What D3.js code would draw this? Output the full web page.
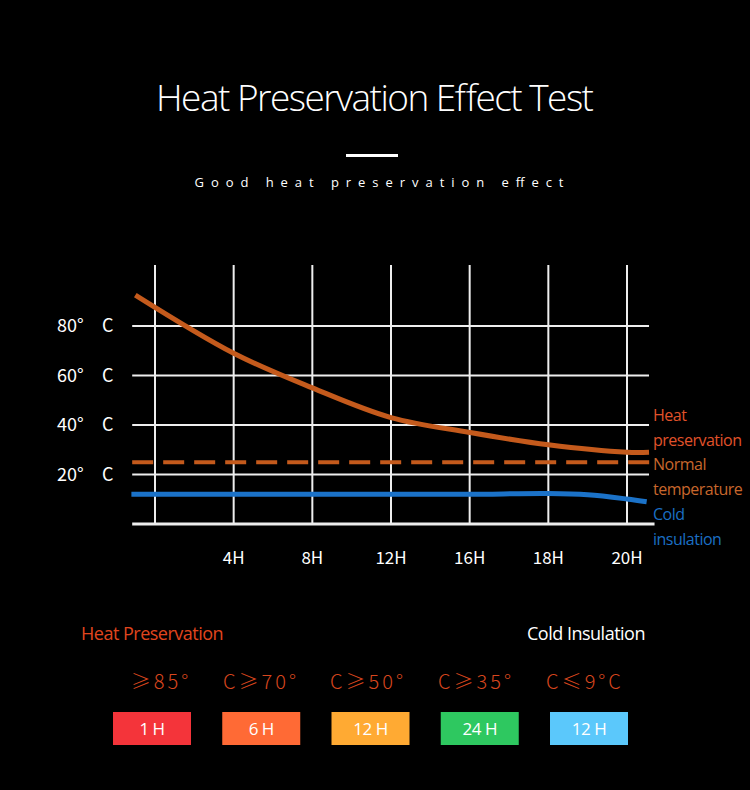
<!DOCTYPE html>
<html>
<head>
<meta charset="utf-8">
<script src="https://cdn.jsdelivr.net/npm/d3@7"></script>
<style>
  html, body { margin: 0; padding: 0; background: #000; }
  svg { display: block; }
</style>
</head>
<body>
<div id="chart"></div>
<script>
// chart data
const xLabels = ["", "4H", "8H", "12H", "16H", "18H", "20H"];
const yTicks = [20, 40, 60, 80];
const heatPos = [-0.25, 1, 2, 3, 4, 5, 6, 6.28];
const heatVals = [92.5, 69, 55, 43, 37, 32, 29, 29];
const normalVal = 25;
const coldPos = [-0.3, 0, 1, 2, 3, 4, 5, 5.5, 6, 6.25];
const coldVals = [12, 12, 12, 12, 12, 12, 12.3, 11.8, 10.1, 9];
const seriesNames = [["Heat", "preservation"], ["Normal", "temperature"], ["Cold", "insulation"]];
const thresholds = ["≥85°", "C≥70°", "C≥50°", "C≥35°", "C≤9°C"];
const durations = ["1 H", "6 H", "12 H", "24 H", "12 H"];

const W = 750, H = 790;
const orange = "#c45a1c";
const blue = "#1b72c8";
const cjk = "'Noto Sans CJK SC', sans-serif";
const latin = "'Open Sans', 'Noto Sans', sans-serif";

const svg = d3.select("#chart").append("svg")
  .attr("width", W)
  .attr("height", H)
  .style("background", "#000");

// titles
svg.append("text")
  .attr("x", 375).attr("y", 111)
  .attr("text-anchor", "middle")
  .attr("fill", "#fff")
  .style("font-family", latin)
  .style("font-weight", 300)
  .style("font-size", "37px")
  .attr("textLength", 438)
  .text("Heat Preservation Effect Test");

svg.append("rect")
  .attr("x", 346).attr("y", 154)
  .attr("width", 52).attr("height", 3)
  .attr("fill", "#fff");

svg.append("text")
  .attr("x", 379).attr("y", 187)
  .attr("text-anchor", "middle")
  .attr("fill", "#fff")
  .style("font-family", latin)
  .style("font-size", "13px")
  .attr("textLength", 369)
  .text("Good heat preservation effect");

// scales
const x = d3.scaleLinear().domain([0, 6]).range([155, 627]);
const y = d3.scaleLinear().domain([0, 80]).range([524, 326]);

const grid = svg.append("g");

// vertical grid
grid.selectAll("line.v")
  .data(xLabels)
  .join("line")
  .attr("class", "v")
  .attr("x1", (d, i) => x(i)).attr("x2", (d, i) => x(i))
  .attr("y1", 265).attr("y2", y(0))
  .attr("stroke", "#eee")
  .attr("stroke-width", 2);

// horizontal grid
grid.selectAll("line.h")
  .data(yTicks)
  .join("line")
  .attr("class", "h")
  .attr("x1", x(-0.29)).attr("x2", x(6.28))
  .attr("y1", d => y(d)).attr("y2", d => y(d))
  .attr("stroke", "#eee")
  .attr("stroke-width", 2);

// bottom axis line
grid.append("line")
  .attr("x1", x(-0.29)).attr("x2", x(6.35))
  .attr("y1", y(0)).attr("y2", y(0))
  .attr("stroke", "#eee")
  .attr("stroke-width", 3);

// y tick labels
const yl = svg.append("g").selectAll("text")
  .data(yTicks)
  .join("text")
  .attr("y", d => y(d) + 6)
  .attr("fill", "#fff")
  .style("font-family", cjk)
  .style("font-size", "18px");
yl.append("tspan").attr("x", 57).text(d => d + "°");
yl.append("tspan").attr("x", 102).text("C");

// x tick labels
svg.append("g").selectAll("text")
  .data(xLabels)
  .join("text")
  .attr("x", (d, i) => x(i))
  .attr("y", 564)
  .attr("text-anchor", "middle")
  .attr("fill", "#fff")
  .style("font-family", cjk)
  .style("font-size", "17px")
  .text(d => d);

// lines
const line = d3.line()
  .x(d => x(d[0]))
  .y(d => y(d[1]))
  .curve(d3.curveCatmullRom.alpha(0.5));

svg.append("path")
  .datum(heatPos.map((p, i) => [p, heatVals[i]]))
  .attr("d", line)
  .attr("fill", "none")
  .attr("stroke", orange)
  .attr("stroke-width", 5);

svg.append("line")
  .attr("x1", x(-0.29)).attr("x2", x(6.35))
  .attr("y1", y(normalVal)).attr("y2", y(normalVal))
  .attr("stroke", orange)
  .attr("stroke-width", 4)
  .attr("stroke-dasharray", "21 10");

svg.append("path")
  .datum(coldPos.map((p, i) => [p, coldVals[i]]))
  .attr("d", line)
  .attr("fill", "none")
  .attr("stroke", blue)
  .attr("stroke-width", 5);

// series labels on the right
const labelColors = ["#e0522a", "#c8672c", "#1b6fc4"];
const labelY = [421, 470, 520];
seriesNames.forEach((lines, k) => {
  const t = svg.append("text")
    .attr("x", 653)
    .attr("y", labelY[k])
    .attr("fill", labelColors[k])
    .style("font-family", latin)
    .style("font-size", "16px")
    .style("letter-spacing", "-0.5px");
  lines.forEach((s, j) => {
    t.append("tspan")
      .attr("x", 653)
      .attr("dy", j === 0 ? 0 : 25)
      .text(s);
  });
});

// bottom legend
svg.append("text")
  .attr("x", 81).attr("y", 640)
  .attr("fill", "#e0461e")
  .style("font-family", latin)
  .style("font-size", "18px")
  .style("letter-spacing", "-0.5px")
  .text("Heat Preservation");

svg.append("text")
  .attr("x", 645).attr("y", 640)
  .attr("text-anchor", "end")
  .attr("fill", "#fff")
  .style("font-family", latin)
  .style("font-size", "18px")
  .style("letter-spacing", "-0.5px")
  .text("Cold Insulation");

const boxColors = ["#f4343a", "#ff6a35", "#ffaa33", "#2ec860", "#5bc8fb"];
const boxX = d3.scalePoint().domain(d3.range(durations.length)).range([152, 589]);
const thrCenters = [161, 261, 368, 476, 585];

svg.append("g").selectAll("text")
  .data(thresholds)
  .join("text")
  .attr("x", (d, i) => thrCenters[i])
  .attr("y", 689)
  .attr("text-anchor", "middle")
  .attr("fill", "#d8461e")
  .style("font-family", cjk)
  .style("font-weight", 300)
  .style("font-size", "20px")
  .style("letter-spacing", "3px")
  .text(d => d);

const boxes = svg.append("g").selectAll("g")
  .data(durations)
  .join("g")
  .attr("transform", (d, i) => `translate(${boxX(i)},728)`);

boxes.append("rect")
  .attr("x", -39).attr("y", -16)
  .attr("width", 78).attr("height", 33)
  .attr("fill", (d, i) => boxColors[i]);

boxes.append("text")
  .attr("y", 7)
  .attr("text-anchor", "middle")
  .attr("fill", "#fff")
  .style("font-family", latin)
  .style("font-size", "17px")
  .style("letter-spacing", "-0.5px")
  .text(d => d);
</script>
</body>
</html>
